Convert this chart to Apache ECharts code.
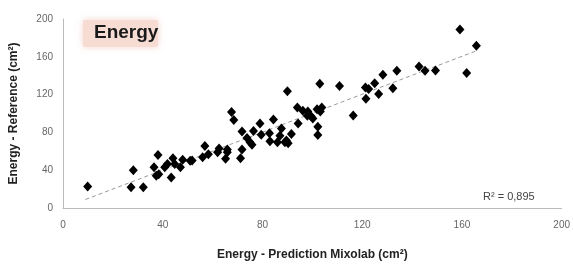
<!DOCTYPE html>
<html>
<head>
<meta charset="utf-8">
<script src="https://cdn.jsdelivr.net/npm/echarts@6/dist/echarts.min.js"></script>
<style>
html,body{margin:0;padding:0;background:#fff;}
#main{width:573px;height:266px;}
</style>
</head>
<body>
<div id="main"></div>
<script>
/*数据*/
var predX = [9.9, 28.2, 27.3, 32.2, 38.1, 36.5, 37.4, 38.4, 40.8, 41.9, 44.1, 44.8, 43.4, 47.1, 48, 51, 51.8,
    56, 58.3, 56.9, 62.6, 65.9, 62, 65.9, 65.2, 71.8, 71.2, 67.6, 68.5, 71.8, 73.8, 75, 75.8, 76.4, 79.5, 79,
    82.8, 84.4, 83, 86, 87.6, 89, 87, 89.6, 90.3, 91.6, 94.3, 90, 94, 96.2, 98.2, 98, 99.5, 100.2, 101.9, 103.8,
    103.2, 102.2, 102.2, 103, 110.9, 116.4, 121.5, 121.3, 122.6, 125, 126.6, 128.3, 132.3, 133.9, 142.8, 145.2,
    149.4, 159.2, 161.9, 165.8];
var refY = [22.8, 40, 22, 22, 56, 43, 34, 35.7, 43, 46.6, 52.7, 46.6, 32.3, 43, 51, 50, 50.3,
    53.8, 56.8, 65.6, 63, 62, 59, 59, 52, 62, 52.7, 101.7, 93, 81, 74, 69.7, 67, 81.6, 77.5, 89.5,
    79, 93.6, 70.7, 69.7, 84, 69.7, 76.5, 71.4, 68.4, 78.2, 89.5, 123.5, 106.4, 103, 102, 97.6, 97, 94.6, 104.4, 106.4,
    102, 86, 77.2, 131.6, 129, 98, 115.6, 127.6, 125.8, 132, 120.7, 141, 126.8, 145.2, 149.7, 145.2,
    145.6, 188.8, 142.9, 171.7];
/*趋势线*/
var trendX = [9, 166];
var trendY = [9, 166.5];
var ticksX = [0, 40, 80, 120, 160, 200];
var ticksY = [0, 40, 80, 120, 160, 200];

var pts = [];
for (var i = 0; i < predX.length; i++) {
    pts.push([predX[i], refY[i]]);
}
var trend = [];
for (var j = 0; j < trendX.length; j++) {
    trend.push([trendX[j], trendY[j]]);
}

var FONT = '"Liberation Sans Narrow", "Liberation Sans", Arial, sans-serif';

var chart = echarts.init(document.getElementById('main'));
chart.setOption({
    animation: false,
    backgroundColor: '#fff',
    grid: {left: 62, right: 6, top: 19, bottom: 51},
    xAxis: {
        type: 'value',
        min: ticksX[0], max: ticksX[ticksX.length - 1], interval: 40,
        name: 'Energy - Prediction Mixolab (cm²)',
        nameLocation: 'middle', nameGap: 41,
        nameTextStyle: {fontFamily: FONT, fontWeight: 'bold', fontSize: 12, color: '#222'},
        axisLine: {lineStyle: {color: '#bbb', width: 1}},
        axisTick: {show: false},
        splitLine: {show: false},
        axisLabel: {fontFamily: FONT, fontSize: 10, color: '#666', margin: 12}
    },
    yAxis: {
        type: 'value',
        min: ticksY[0], max: ticksY[ticksY.length - 1], interval: 40,
        name: 'Energy - Reference (cm²)',
        nameLocation: 'middle', nameGap: 43, nameRotate: 90,
        nameTextStyle: {fontFamily: FONT, fontWeight: 'bold', fontSize: 12, color: '#222'},
        axisLine: {show: true, lineStyle: {color: '#bbb', width: 1}},
        axisTick: {show: false},
        splitLine: {show: false},
        axisLabel: {fontFamily: FONT, fontSize: 10, color: '#666', margin: 10}
    },
    graphic: [
        {
            type: 'rect', left: 83, top: 20, z: 10,
            shape: {width: 75, height: 27, r: 2},
            style: {fill: '#f7dcd3', shadowBlur: 6, shadowColor: 'rgba(240,170,160,0.5)'}
        },
        {
            type: 'text', left: 94, top: 23, z: 11,
            style: {text: 'Energy', font: 'bold 19px ' + FONT, fill: '#1a1a1a'}
        },
        {
            type: 'text', left: 483, top: 191, z: 11,
            style: {text: 'R² = 0,895', font: '11px ' + FONT, fill: '#444'}
        }
    ],
    series: [
        {
            type: 'line',
            data: trend,
            symbol: 'none',
            lineStyle: {color: '#999', width: 1, type: [4, 3]},
            z: 1
        },
        {
            type: 'scatter',
            data: pts,
            symbol: 'diamond',
            symbolSize: [9, 10],
            itemStyle: {color: '#000', opacity: 1},
            z: 2
        }
    ]
});
</script>
</body>
</html>
